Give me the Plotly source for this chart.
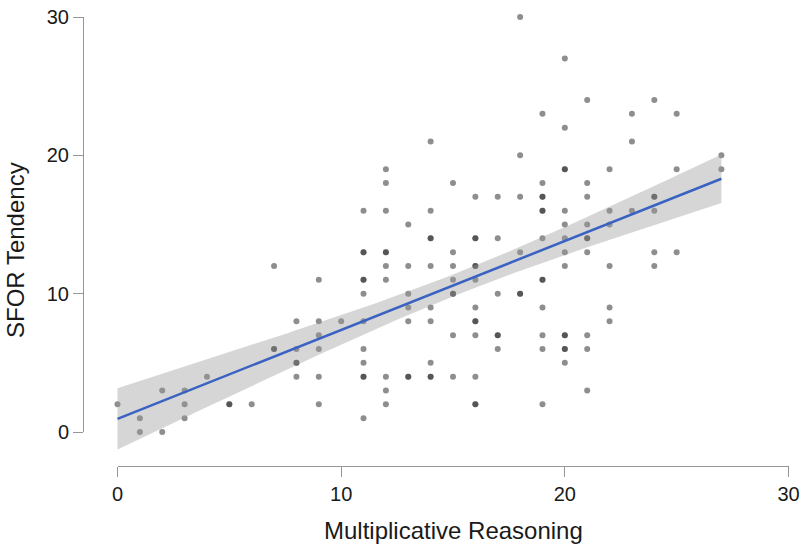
import numpy as np
import plotly.graph_objects as go

# ---- data ----
mr = ([0] + [1] * 2 + [2] * 2 + [3] * 3 + [4] + [5] * 2 + [6] + [7] * 3 + [8] * 5 + [9] * 6 + [10]
      + [11] * 12 + [12] * 10 + [13] * 7 + [14] * 10 + [15] * 8 + [16] * 13 + [17] * 6 + [18] * 6
      + [19] * 13 + [20] * 14 + [21] * 10 + [22] * 6 + [23] * 3 + [24] * 6 + [25] * 3 + [27] * 2)
sfor = ([2]
        + [1, 0]
        + [3, 0]
        + [3, 2, 1]
        + [4]
        + [2, 2]
        + [2]
        + [12, 6, 6]
        + [8, 6, 5, 5, 4]
        + [11, 8, 7, 6, 4, 2]
        + [8]
        + [16, 13, 13, 11, 11, 10, 8, 6, 5, 4, 4, 1]
        + [19, 18, 16, 13, 13, 12, 11, 4, 3, 2]
        + [15, 12, 10, 9, 8, 4, 4]
        + [21, 16, 14, 14, 12, 9, 8, 5, 4, 4]
        + [18, 13, 12, 11, 10, 10, 7, 4]
        + [17, 14, 14, 12, 12, 11, 9, 8, 8, 7, 4, 2, 2]
        + [17, 14, 10, 7, 7, 6]
        + [30, 20, 17, 13, 10, 10]
        + [23, 18, 17, 17, 16, 16, 14, 11, 11, 9, 7, 6, 2]
        + [27, 22, 19, 19, 16, 15, 14, 13, 12, 7, 7, 6, 6, 5]
        + [24, 18, 17, 15, 14, 14, 13, 7, 6, 3]
        + [19, 16, 15, 12, 9, 8]
        + [23, 21, 16]
        + [24, 17, 17, 16, 13, 12]
        + [23, 19, 13]
        + [20, 19])
tick_vals = [0, 10, 20, 30]
x_title = "Multiplicative Reasoning"
y_title = "SFOR Tendency"

# ---- layout geometry (pixels of the 803x546 window) ----
W, H = 803, 546
X0PX, X30PX = 117.5, 788.5
Y0PX, Y30PX = 432.0, 17.0
XAXIS_Y, YAXIS_X = 466.0, 83.0
XTITLE_Y, YTITLE_X, YTITLE_Y = 530.0, 16.0, 250.0
FONT = "Liberation Sans, Arial, sans-serif"
AXIS_COL = "rgb(150,150,150)"
TEXT_COL = "#1a1a1a"

# ---- linear fit with 95% confidence band ----
x = np.array(mr, float)
y = np.array(sfor, float)
n = len(x)
b1, b0 = np.polyfit(x, y, 1)
xs = np.linspace(x.min(), x.max(), 100)
yhat = b0 + b1 * xs
res = y - (b0 + b1 * x)
s = np.sqrt(np.sum(res ** 2) / (n - 2))
sxx = np.sum((x - x.mean()) ** 2)
se = s * np.sqrt(1.0 / n + (xs - x.mean()) ** 2 / sxx)
tcrit = 1.976
upper = yhat + tcrit * se
lower = yhat - tcrit * se

fig = go.Figure()
fig.add_trace(go.Scatter(x=x, y=y, mode="markers",
                         marker=dict(size=6, color="rgba(30,30,30,0.5)", line=dict(width=0)),
                         cliponaxis=False, hoverinfo="skip", showlegend=False))
fig.add_trace(go.Scatter(x=np.concatenate([xs, xs[::-1]]), y=np.concatenate([upper, lower[::-1]]),
                         fill="toself", fillcolor="rgba(153,153,153,0.4)", line=dict(width=0),
                         mode="lines", hoverinfo="skip", showlegend=False))
fig.add_trace(go.Scatter(x=xs, y=yhat, mode="lines", line=dict(color="#3A62C2", width=2.5),
                         hoverinfo="skip", showlegend=False))
# invisible trace to host the detached R-style axes
fig.add_trace(go.Scatter(x=x, y=y, xaxis="x2", yaxis="y2", mode="markers",
                         marker=dict(opacity=0), hoverinfo="skip", showlegend=False))

ux = (X30PX - X0PX) / 30.0
uy = (Y0PX - Y30PX) / 30.0
axis_style = dict(range=[0, 30], anchor="free", showline=True, linecolor=AXIS_COL, linewidth=1,
                  ticks="outside", ticklen=10, tickcolor=AXIS_COL, tickwidth=1, tickvals=tick_vals,
                  showgrid=False, zeroline=False, ticklabeloverflow="allow",
                  tickfont=dict(size=20, family=FONT, color=TEXT_COL), automargin=False, fixedrange=True)
fig.update_layout(
    width=W, height=H,
    margin=dict(l=0, r=0, t=0, b=0),
    paper_bgcolor="white", plot_bgcolor="rgba(0,0,0,0)",
    font=dict(family=FONT, color=TEXT_COL),
    xaxis=dict(domain=[0, 1], range=[-X0PX / ux, 30 + (W - X30PX) / ux], visible=False, fixedrange=True),
    yaxis=dict(domain=[0, 1], range=[-(H - Y0PX) / uy, 30 + Y30PX / uy], visible=False, fixedrange=True),
    xaxis2=dict(domain=[X0PX / W, X30PX / W], position=1 - XAXIS_Y / H, **axis_style),
    yaxis2=dict(domain=[1 - Y0PX / H, 1 - Y30PX / H], position=YAXIS_X / W, **axis_style),
    annotations=[
        dict(text=x_title, xref="paper", yref="paper", x=(X0PX + X30PX) / 2 / W, y=1 - XTITLE_Y / H,
             xanchor="center", yanchor="middle", showarrow=False, font=dict(size=24, family=FONT, color=TEXT_COL)),
        dict(text=y_title, xref="paper", yref="paper", x=YTITLE_X / W, y=1 - YTITLE_Y / H, textangle=-90,
             xanchor="center", yanchor="middle", showarrow=False, font=dict(size=24, family=FONT, color=TEXT_COL)),
    ],
)
fig.write_html("out.html", config={"displayModeBar": False},
               post_script="document.body.style.margin='0';document.documentElement.style.overflow='hidden';")
